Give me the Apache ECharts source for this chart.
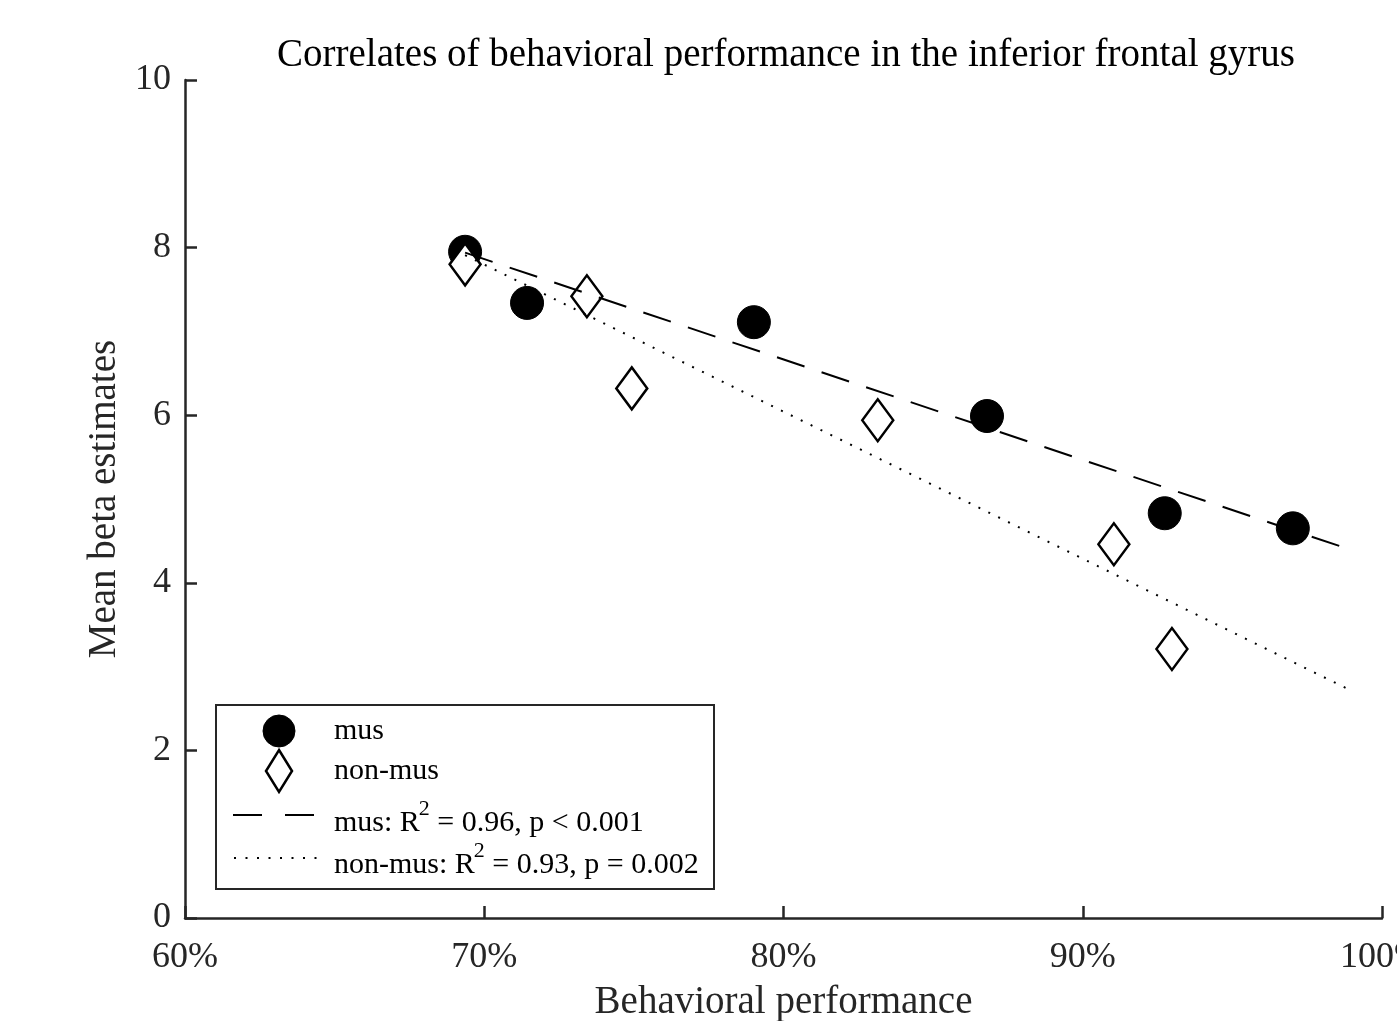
<!DOCTYPE html>
<html>
<head>
<meta charset="utf-8">
<title>Correlates of behavioral performance</title>
<script src="https://cdn.jsdelivr.net/npm/echarts@6/dist/echarts.min.js"></script>
<style>
  html, body { margin: 0; padding: 0; background: #fff; }
  #chart { width: 1397px; height: 1021px; }
</style>
</head>
<body>
<div id="chart"></div>
<script>
// Behavioral performance (%) and mean beta estimates per group
const musPerf = [69.36, 71.43, 79.01, 86.80, 92.74, 97.02];
const musBeta = [7.95, 7.34, 7.11, 5.99, 4.83, 4.65];
const nonMusPerf = [69.36, 73.43, 74.93, 83.15, 91.04, 92.98];
const nonMusBeta = [7.80, 7.42, 6.32, 5.94, 4.46, 3.21];

// Linear fit end points (performance, beta)
const musFitPerf = [69.36, 98.99];
const musFitBeta = [7.94, 4.39];
const nonMusFitPerf = [69.36, 98.99];
const nonMusFitBeta = [7.91, 2.71];

// Axis ticks
const xTicks = [60, 70, 80, 90, 100];
const yTicks = [0, 2, 4, 6, 8, 10];

const legendLabels = ['mus', 'non-mus'];
const fitLabels = [
  ['mus: R', '2', ' = 0.96, p < 0.001'],
  ['non-mus: R', '2', ' = 0.93, p = 0.002']
];

const FONT = '"Liberation Serif", "DejaVu Serif", serif';
const AXIS = '#262626';

const pairs = (xs, ys) => xs.map((x, i) => [x, ys[i]]);

// Text width helper for placing superscripts in the legend
const measureCtx = document.createElement('canvas').getContext('2d');
function textWidth(str, size) {
  measureCtx.font = size + 'px ' + FONT;
  return measureCtx.measureText(str).width;
}

const chart = echarts.init(document.getElementById('chart'), null, { renderer: 'canvas' });

const gridLeft = 185, gridRight = 15, gridTop = 80, gridBottom = 103;

// Hand-built legend box (lower left of the plot area)
const lx = 215, ly = 704, lw = 498, lh = 184;
const legendTextX = 334;
const baseSize = 30, supSize = 22;

const legendGraphics = [
  {
    type: 'rect', left: lx, top: ly, z: 10,
    shape: { width: lw, height: lh },
    style: { fill: '#fff', stroke: AXIS, lineWidth: 2 }
  },
  {
    type: 'circle', z: 11,
    shape: { cx: 279, cy: 731, r: 16 },
    style: { fill: '#000', stroke: '#000', lineWidth: 1 }
  },
  {
    type: 'polygon', z: 11,
    shape: { points: [[279, 750], [292, 771], [279, 792], [266, 771]] },
    style: { fill: '#fff', stroke: '#000', lineWidth: 2.5 }
  },
  {
    type: 'line', z: 11,
    shape: { x1: 233, y1: 815, x2: 314, y2: 815 },
    style: { stroke: '#000', lineWidth: 2, lineDash: [29, 23] }
  },
  {
    type: 'line', z: 11,
    shape: { x1: 234, y1: 858, x2: 322, y2: 858 },
    style: { stroke: '#000', lineWidth: 2, lineDash: [2, 9.5] }
  },
  {
    type: 'text', z: 11, x: legendTextX, y: 731,
    style: { text: legendLabels[0], font: baseSize + 'px ' + FONT, fill: '#000', textVerticalAlign: 'middle' }
  },
  {
    type: 'text', z: 11, x: legendTextX, y: 771,
    style: { text: legendLabels[1], font: baseSize + 'px ' + FONT, fill: '#000', textVerticalAlign: 'middle' }
  }
];

// Fit statistics with a raised exponent on R
const fitRowY = [823, 865];
fitLabels.forEach((parts, i) => {
  const y = fitRowY[i];
  const w1 = textWidth(parts[0], baseSize);
  const supX = legendTextX + w1 - 1;
  const w2 = textWidth(parts[1], supSize);
  legendGraphics.push(
    {
      type: 'text', z: 11, x: legendTextX, y: y,
      style: { text: parts[0], font: baseSize + 'px ' + FONT, fill: '#000', textVerticalAlign: 'middle' }
    },
    {
      type: 'text', z: 11, x: supX, y: y - 14,
      style: { text: parts[1], font: supSize + 'px ' + FONT, fill: '#000', textVerticalAlign: 'middle' }
    },
    {
      type: 'text', z: 11, x: supX + w2, y: y,
      style: { text: parts[2], font: baseSize + 'px ' + FONT, fill: '#000', textVerticalAlign: 'middle' }
    }
  );
});

const option = {
  backgroundColor: '#fff',
  animation: false,
  title: {
    text: 'Correlates of behavioral performance in the inferior frontal gyrus',
    left: 781, top: 31, textAlign: 'center',
    textStyle: { fontFamily: FONT, fontSize: 39, fontWeight: 'normal', color: '#000' }
  },
  grid: {
    left: gridLeft, right: gridRight, top: gridTop, bottom: gridBottom,
    containLabel: false, outerBoundsMode: 'none'
  },
  xAxis: {
    type: 'value', min: xTicks[0], max: xTicks[xTicks.length - 1], interval: 10,
    name: 'Behavioral performance', nameLocation: 'middle', nameGap: 65,
    nameTextStyle: { fontFamily: FONT, fontSize: 39, color: AXIS },
    axisLine: { show: true, lineStyle: { color: AXIS, width: 2.5 } },
    axisTick: { show: true, inside: true, length: 12, lineStyle: { color: AXIS, width: 2.5 } },
    axisLabel: { fontFamily: FONT, fontSize: 36, color: AXIS, margin: 22, formatter: '{value}%' },
    splitLine: { show: false }
  },
  yAxis: {
    type: 'value', min: yTicks[0], max: yTicks[yTicks.length - 1], interval: 2,
    name: 'Mean beta estimates', nameLocation: 'middle', nameGap: 58,
    nameTextStyle: { fontFamily: FONT, fontSize: 39, color: AXIS },
    axisLine: { show: true, lineStyle: { color: AXIS, width: 2.5 } },
    axisTick: { show: true, inside: true, length: 12, lineStyle: { color: AXIS, width: 2.5 } },
    axisLabel: { fontFamily: FONT, fontSize: 36, color: AXIS, margin: 14 },
    splitLine: { show: false }
  },
  series: [
    {
      name: 'mus', type: 'scatter', z: 2,
      data: pairs(musPerf, musBeta),
      symbol: 'circle', symbolSize: 33,
      itemStyle: { color: '#000', borderColor: '#000', borderWidth: 1, opacity: 1 }
    },
    {
      name: 'non-mus', type: 'scatter', z: 3,
      data: pairs(nonMusPerf, nonMusBeta),
      symbol: 'diamond', symbolSize: [31, 42],
      itemStyle: { color: '#fff', borderColor: '#000', borderWidth: 2.5, opacity: 1 }
    },
    {
      name: 'mus fit', type: 'line', z: 4,
      data: pairs(musFitPerf, musFitBeta),
      showSymbol: false, symbol: 'none',
      lineStyle: { color: '#000', width: 2, type: [29, 18] }
    },
    {
      name: 'non-mus fit', type: 'line', z: 4,
      data: pairs(nonMusFitPerf, nonMusFitBeta),
      showSymbol: false, symbol: 'none',
      lineStyle: { color: '#000', width: 2, type: [2, 9] }
    }
  ],
  graphic: legendGraphics
};

chart.setOption(option);
</script>
</body>
</html>
